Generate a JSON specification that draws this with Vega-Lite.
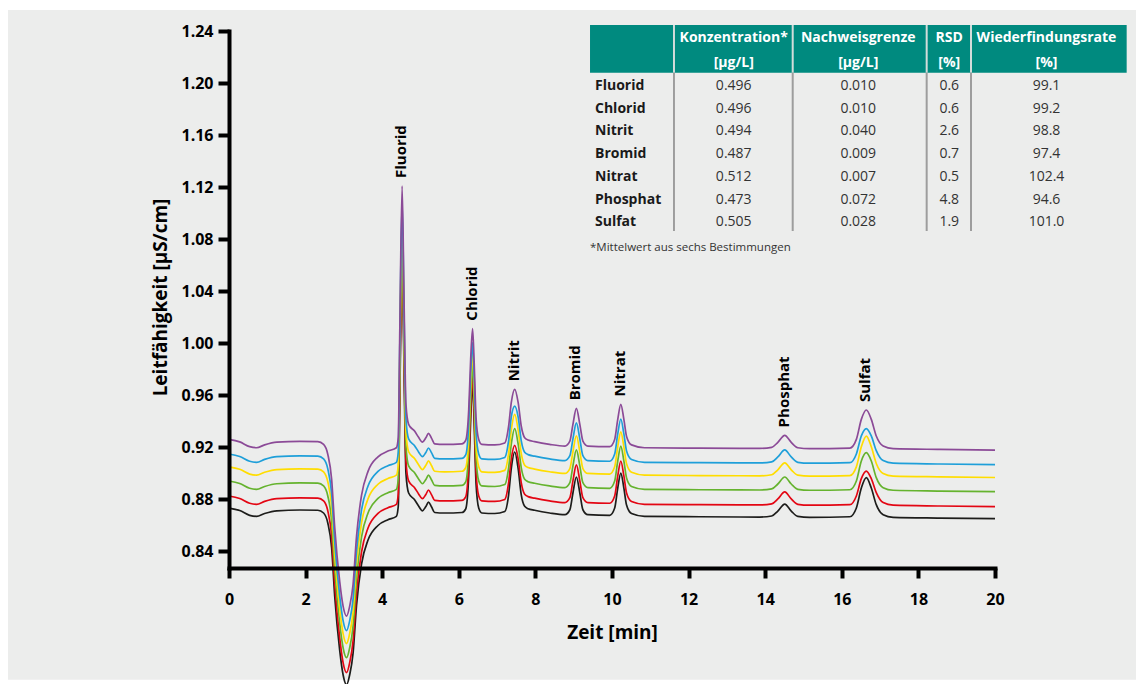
{
  "$schema": "https://vega.github.io/schema/vega-lite/v6.json",
  "width": 766,
  "height": 537,
  "autosize": {"type": "none"},
  "padding": {"left": 229, "top": 31, "right": 141, "bottom": 116},
  "background": "#ffffff",
  "config": {
    "view": {"stroke": null},
    "font": "Open Sans",
    "axis": {
      "grid": false,
      "labelFlush": false,
      "domainColor": "#000000",
      "domainWidth": 4,
      "domainCap": "square",
      "tickColor": "#000000",
      "tickWidth": 4,
      "labelFont": "Open Sans",
      "labelFontWeight": "bold",
      "labelFontSize": 16,
      "labelColor": "#000000",
      "titleFont": "Open Sans",
      "titleFontWeight": "bold",
      "titleFontSize": 19,
      "titleColor": "#000000"
    }
  },
  "datasets": {
    "chromatogramm": [
      {"t": 0, "m1": 0.8731, "m2": 0.8824, "m3": 0.8939, "m4": 0.9048, "m5": 0.9147, "m6": 0.9259},
      {"t": 0.28, "m1": 0.8712, "m2": 0.8805, "m3": 0.8920, "m4": 0.9029, "m5": 0.9128, "m6": 0.9240},
      {"t": 0.54, "m1": 0.8675, "m2": 0.8768, "m3": 0.8883, "m4": 0.8992, "m5": 0.9091, "m6": 0.9203},
      {"t": 0.72, "m1": 0.8667, "m2": 0.8760, "m3": 0.8875, "m4": 0.8984, "m5": 0.9083, "m6": 0.9195},
      {"t": 0.93, "m1": 0.8689, "m2": 0.8782, "m3": 0.8897, "m4": 0.9006, "m5": 0.9105, "m6": 0.9217},
      {"t": 1.25, "m1": 0.8710, "m2": 0.8803, "m3": 0.8918, "m4": 0.9027, "m5": 0.9126, "m6": 0.9238},
      {"t": 1.85, "m1": 0.8716, "m2": 0.8809, "m3": 0.8924, "m4": 0.9033, "m5": 0.9132, "m6": 0.9244},
      {"t": 2.32, "m1": 0.8714, "m2": 0.8807, "m3": 0.8922, "m4": 0.9031, "m5": 0.9130, "m6": 0.9242},
      {"t": 2.47, "m1": 0.8693, "m2": 0.8786, "m3": 0.8901, "m4": 0.9010, "m5": 0.9109, "m6": 0.9221},
      {"t": 2.58, "m1": 0.8616, "m2": 0.8709, "m3": 0.8824, "m4": 0.8933, "m5": 0.9032, "m6": 0.9144},
      {"t": 2.68, "m1": 0.8424, "m2": 0.8517, "m3": 0.8632, "m4": 0.8741, "m5": 0.8840, "m6": 0.8952},
      {"t": 2.76, "m1": 0.8054, "m2": 0.8147, "m3": 0.8262, "m4": 0.8371, "m5": 0.8470, "m6": 0.8582},
      {"t": 2.89, "m1": 0.7639, "m2": 0.7732, "m3": 0.7847, "m4": 0.7956, "m5": 0.8055, "m6": 0.8167},
      {"t": 2.98, "m1": 0.7447, "m2": 0.7540, "m3": 0.7655, "m4": 0.7764, "m5": 0.7863, "m6": 0.7975},
      {"t": 3.07, "m1": 0.7372, "m2": 0.7465, "m3": 0.7580, "m4": 0.7689, "m5": 0.7788, "m6": 0.7900},
      {"t": 3.15, "m1": 0.7447, "m2": 0.7540, "m3": 0.7655, "m4": 0.7764, "m5": 0.7863, "m6": 0.7975},
      {"t": 3.24, "m1": 0.7616, "m2": 0.7709, "m3": 0.7824, "m4": 0.7933, "m5": 0.8032, "m6": 0.8144},
      {"t": 3.33, "m1": 0.7985, "m2": 0.8078, "m3": 0.8193, "m4": 0.8302, "m5": 0.8401, "m6": 0.8513},
      {"t": 3.46, "m1": 0.8300, "m2": 0.8393, "m3": 0.8508, "m4": 0.8617, "m5": 0.8716, "m6": 0.8828},
      {"t": 3.63, "m1": 0.8485, "m2": 0.8578, "m3": 0.8693, "m4": 0.8802, "m5": 0.8901, "m6": 0.9013},
      {"t": 3.89, "m1": 0.8597, "m2": 0.8690, "m3": 0.8805, "m4": 0.8914, "m5": 0.9013, "m6": 0.9125},
      {"t": 4.15, "m1": 0.8641, "m2": 0.8734, "m3": 0.8849, "m4": 0.8958, "m5": 0.9057, "m6": 0.9169},
      {"t": 4.37, "m1": 0.8667, "m2": 0.8760, "m3": 0.8875, "m4": 0.8984, "m5": 0.9083, "m6": 0.9195},
      {"t": 4.42, "m1": 0.8747, "m2": 0.8840, "m3": 0.8955, "m4": 0.9064, "m5": 0.9163, "m6": 0.9275},
      {"t": 4.46, "m1": 0.9577, "m2": 0.9670, "m3": 0.9785, "m4": 0.9894, "m5": 0.9993, "m6": 1.0105},
      {"t": 4.52, "m1": 1.0680, "m2": 1.0773, "m3": 1.0888, "m4": 1.0997, "m5": 1.1096, "m6": 1.1208},
      {"t": 4.57, "m1": 0.9808, "m2": 0.9901, "m3": 1.0016, "m4": 1.0125, "m5": 1.0224, "m6": 1.0336},
      {"t": 4.62, "m1": 0.9000, "m2": 0.9093, "m3": 0.9208, "m4": 0.9317, "m5": 0.9416, "m6": 0.9528},
      {"t": 4.69, "m1": 0.8847, "m2": 0.8940, "m3": 0.9055, "m4": 0.9164, "m5": 0.9263, "m6": 0.9375},
      {"t": 4.85, "m1": 0.8793, "m2": 0.8886, "m3": 0.9001, "m4": 0.9110, "m5": 0.9209, "m6": 0.9321},
      {"t": 4.95, "m1": 0.8747, "m2": 0.8840, "m3": 0.8955, "m4": 0.9064, "m5": 0.9163, "m6": 0.9275},
      {"t": 5.05, "m1": 0.8710, "m2": 0.8803, "m3": 0.8918, "m4": 0.9027, "m5": 0.9126, "m6": 0.9238},
      {"t": 5.14, "m1": 0.8743, "m2": 0.8836, "m3": 0.8951, "m4": 0.9060, "m5": 0.9159, "m6": 0.9271},
      {"t": 5.21, "m1": 0.8777, "m2": 0.8870, "m3": 0.8985, "m4": 0.9094, "m5": 0.9193, "m6": 0.9305},
      {"t": 5.29, "m1": 0.8739, "m2": 0.8832, "m3": 0.8947, "m4": 0.9056, "m5": 0.9155, "m6": 0.9267},
      {"t": 5.37, "m1": 0.8697, "m2": 0.8790, "m3": 0.8905, "m4": 0.9014, "m5": 0.9113, "m6": 0.9225},
      {"t": 5.63, "m1": 0.8693, "m2": 0.8786, "m3": 0.8901, "m4": 0.9010, "m5": 0.9109, "m6": 0.9221},
      {"t": 6.08, "m1": 0.8697, "m2": 0.8790, "m3": 0.8905, "m4": 0.9014, "m5": 0.9113, "m6": 0.9225},
      {"t": 6.18, "m1": 0.8724, "m2": 0.8817, "m3": 0.8932, "m4": 0.9041, "m5": 0.9140, "m6": 0.9252},
      {"t": 6.26, "m1": 0.8990, "m2": 0.9076, "m3": 0.9181, "m4": 0.9279, "m5": 0.9378, "m6": 0.9490},
      {"t": 6.31, "m1": 0.9414, "m2": 0.9490, "m3": 0.9582, "m4": 0.9680, "m5": 0.9763, "m6": 0.9875},
      {"t": 6.36, "m1": 0.9695, "m2": 0.9759, "m3": 0.9836, "m4": 0.9926, "m5": 1.0003, "m6": 1.0111},
      {"t": 6.40, "m1": 0.9398, "m2": 0.9474, "m3": 0.9566, "m4": 0.9664, "m5": 0.9747, "m6": 0.9859},
      {"t": 6.45, "m1": 0.8922, "m2": 0.9010, "m3": 0.9118, "m4": 0.9217, "m5": 0.9316, "m6": 0.9428},
      {"t": 6.52, "m1": 0.8731, "m2": 0.8824, "m3": 0.8939, "m4": 0.9048, "m5": 0.9147, "m6": 0.9259},
      {"t": 6.60, "m1": 0.8693, "m2": 0.8786, "m3": 0.8901, "m4": 0.9010, "m5": 0.9109, "m6": 0.9221},
      {"t": 6.94, "m1": 0.8689, "m2": 0.8782, "m3": 0.8897, "m4": 0.9006, "m5": 0.9105, "m6": 0.9217},
      {"t": 7.20, "m1": 0.8704, "m2": 0.8797, "m3": 0.8912, "m4": 0.9021, "m5": 0.9120, "m6": 0.9232},
      {"t": 7.30, "m1": 0.8831, "m2": 0.8924, "m3": 0.9039, "m4": 0.9148, "m5": 0.9247, "m6": 0.9359},
      {"t": 7.37, "m1": 0.9034, "m2": 0.9107, "m3": 0.9222, "m4": 0.9331, "m5": 0.9430, "m6": 0.9542},
      {"t": 7.46, "m1": 0.9162, "m2": 0.9213, "m3": 0.9342, "m4": 0.9452, "m5": 0.9515, "m6": 0.9644},
      {"t": 7.55, "m1": 0.9034, "m2": 0.9107, "m3": 0.9222, "m4": 0.9331, "m5": 0.9430, "m6": 0.9542},
      {"t": 7.63, "m1": 0.8834, "m2": 0.8927, "m3": 0.9042, "m4": 0.9151, "m5": 0.9250, "m6": 0.9362},
      {"t": 7.72, "m1": 0.8744, "m2": 0.8837, "m3": 0.8952, "m4": 0.9061, "m5": 0.9160, "m6": 0.9272},
      {"t": 7.81, "m1": 0.8726, "m2": 0.8819, "m3": 0.8934, "m4": 0.9043, "m5": 0.9142, "m6": 0.9254},
      {"t": 7.98, "m1": 0.8714, "m2": 0.8807, "m3": 0.8922, "m4": 0.9031, "m5": 0.9130, "m6": 0.9242},
      {"t": 8.37, "m1": 0.8693, "m2": 0.8786, "m3": 0.8901, "m4": 0.9010, "m5": 0.9109, "m6": 0.9221},
      {"t": 8.77, "m1": 0.8680, "m2": 0.8773, "m3": 0.8888, "m4": 0.8997, "m5": 0.9096, "m6": 0.9208},
      {"t": 8.90, "m1": 0.8718, "m2": 0.8811, "m3": 0.8926, "m4": 0.9035, "m5": 0.9134, "m6": 0.9246},
      {"t": 8.98, "m1": 0.8847, "m2": 0.8940, "m3": 0.9055, "m4": 0.9164, "m5": 0.9263, "m6": 0.9375},
      {"t": 9.07, "m1": 0.8970, "m2": 0.9063, "m3": 0.9178, "m4": 0.9287, "m5": 0.9386, "m6": 0.9498},
      {"t": 9.16, "m1": 0.8847, "m2": 0.8940, "m3": 0.9055, "m4": 0.9164, "m5": 0.9263, "m6": 0.9375},
      {"t": 9.24, "m1": 0.8718, "m2": 0.8811, "m3": 0.8926, "m4": 0.9035, "m5": 0.9134, "m6": 0.9246},
      {"t": 9.37, "m1": 0.8680, "m2": 0.8773, "m3": 0.8888, "m4": 0.8997, "m5": 0.9096, "m6": 0.9208},
      {"t": 9.94, "m1": 0.8675, "m2": 0.8768, "m3": 0.8883, "m4": 0.8992, "m5": 0.9091, "m6": 0.9203},
      {"t": 10.07, "m1": 0.8731, "m2": 0.8824, "m3": 0.8939, "m4": 0.9048, "m5": 0.9147, "m6": 0.9259},
      {"t": 10.15, "m1": 0.8885, "m2": 0.8978, "m3": 0.9093, "m4": 0.9202, "m5": 0.9301, "m6": 0.9413},
      {"t": 10.23, "m1": 0.9000, "m2": 0.9093, "m3": 0.9208, "m4": 0.9317, "m5": 0.9416, "m6": 0.9528},
      {"t": 10.31, "m1": 0.8885, "m2": 0.8978, "m3": 0.9093, "m4": 0.9202, "m5": 0.9301, "m6": 0.9413},
      {"t": 10.38, "m1": 0.8754, "m2": 0.8847, "m3": 0.8962, "m4": 0.9071, "m5": 0.9170, "m6": 0.9282},
      {"t": 10.51, "m1": 0.8689, "m2": 0.8782, "m3": 0.8897, "m4": 0.9006, "m5": 0.9105, "m6": 0.9217},
      {"t": 10.85, "m1": 0.8667, "m2": 0.8760, "m3": 0.8875, "m4": 0.8984, "m5": 0.9083, "m6": 0.9195},
      {"t": 12.29, "m1": 0.8664, "m2": 0.8757, "m3": 0.8872, "m4": 0.8981, "m5": 0.9080, "m6": 0.9192},
      {"t": 13.86, "m1": 0.8662, "m2": 0.8755, "m3": 0.8870, "m4": 0.8979, "m5": 0.9078, "m6": 0.9190},
      {"t": 14.17, "m1": 0.8670, "m2": 0.8763, "m3": 0.8878, "m4": 0.8987, "m5": 0.9086, "m6": 0.9198},
      {"t": 14.33, "m1": 0.8708, "m2": 0.8801, "m3": 0.8916, "m4": 0.9025, "m5": 0.9124, "m6": 0.9236},
      {"t": 14.51, "m1": 0.8762, "m2": 0.8855, "m3": 0.8970, "m4": 0.9079, "m5": 0.9178, "m6": 0.9290},
      {"t": 14.68, "m1": 0.8708, "m2": 0.8801, "m3": 0.8916, "m4": 0.9025, "m5": 0.9124, "m6": 0.9236},
      {"t": 14.85, "m1": 0.8667, "m2": 0.8760, "m3": 0.8875, "m4": 0.8984, "m5": 0.9083, "m6": 0.9195},
      {"t": 15.16, "m1": 0.8660, "m2": 0.8753, "m3": 0.8868, "m4": 0.8977, "m5": 0.9076, "m6": 0.9188},
      {"t": 16.21, "m1": 0.8664, "m2": 0.8757, "m3": 0.8872, "m4": 0.8981, "m5": 0.9080, "m6": 0.9192},
      {"t": 16.38, "m1": 0.8731, "m2": 0.8824, "m3": 0.8939, "m4": 0.9048, "m5": 0.9147, "m6": 0.9259},
      {"t": 16.51, "m1": 0.8885, "m2": 0.8957, "m3": 0.9093, "m4": 0.9202, "m5": 0.9286, "m6": 0.9413},
      {"t": 16.64, "m1": 0.8965, "m2": 0.9015, "m3": 0.9157, "m4": 0.9285, "m5": 0.9342, "m6": 0.9485},
      {"t": 16.77, "m1": 0.8885, "m2": 0.8957, "m3": 0.9093, "m4": 0.9202, "m5": 0.9286, "m6": 0.9413},
      {"t": 16.90, "m1": 0.8757, "m2": 0.8850, "m3": 0.8965, "m4": 0.9074, "m5": 0.9173, "m6": 0.9285},
      {"t": 17.08, "m1": 0.8680, "m2": 0.8773, "m3": 0.8888, "m4": 0.8997, "m5": 0.9096, "m6": 0.9208},
      {"t": 17.34, "m1": 0.8660, "m2": 0.8753, "m3": 0.8868, "m4": 0.8977, "m5": 0.9076, "m6": 0.9188},
      {"t": 18.56, "m1": 0.8654, "m2": 0.8747, "m3": 0.8862, "m4": 0.8971, "m5": 0.9070, "m6": 0.9182},
      {"t": 20, "m1": 0.8649, "m2": 0.8742, "m3": 0.8857, "m4": 0.8966, "m5": 0.9065, "m6": 0.9177}
    ],
    "peaks": [
      {"Anion": "Fluorid", "t": 4.52, "wert": 1.1208},
      {"Anion": "Chlorid", "t": 6.36, "wert": 1.0111},
      {"Anion": "Nitrit", "t": 7.46, "wert": 0.9644},
      {"Anion": "Bromid", "t": 9.07, "wert": 0.9498},
      {"Anion": "Nitrat", "t": 10.23, "wert": 0.9528},
      {"Anion": "Phosphat", "t": 14.51, "wert": 0.9290},
      {"Anion": "Sulfat", "t": 16.64, "wert": 0.9485}
    ],
    "tabelle": [
      {"nr": 1, "Anion": "Fluorid", "Konzentration": "0.496", "Nachweisgrenze": "0.010", "RSD": "0.6", "Wiederfindung": "99.1"},
      {"nr": 2, "Anion": "Chlorid", "Konzentration": "0.496", "Nachweisgrenze": "0.010", "RSD": "0.6", "Wiederfindung": "99.2"},
      {"nr": 3, "Anion": "Nitrit", "Konzentration": "0.494", "Nachweisgrenze": "0.040", "RSD": "2.6", "Wiederfindung": "98.8"},
      {"nr": 4, "Anion": "Bromid", "Konzentration": "0.487", "Nachweisgrenze": "0.009", "RSD": "0.7", "Wiederfindung": "97.4"},
      {"nr": 5, "Anion": "Nitrat", "Konzentration": "0.512", "Nachweisgrenze": "0.007", "RSD": "0.5", "Wiederfindung": "102.4"},
      {"nr": 6, "Anion": "Phosphat", "Konzentration": "0.473", "Nachweisgrenze": "0.072", "RSD": "4.8", "Wiederfindung": "94.6"},
      {"nr": 7, "Anion": "Sulfat", "Konzentration": "0.505", "Nachweisgrenze": "0.028", "RSD": "1.9", "Wiederfindung": "101.0"}
    ]
  },
  "layer": [
    {
      "layer": [
        {
          "data": {"values": [{}]},
          "mark": {"type": "rect", "color": "#ecedec"},
          "encoding": {
            "x": {"datum": -28.85, "type": "quantitative", "scale": {"domain": [0, 100], "nice": false, "zero": false}, "axis": null},
            "x2": {"datum": 118.6},
            "y": {"datum": -2.26, "type": "quantitative", "scale": {"domain": [22.322, -1.335], "nice": false, "zero": false}, "axis": null},
            "y2": {"datum": 27.24}
          }
        },
        {
          "data": {"values": [{}]},
          "mark": {"type": "rect", "color": "#008a7f"},
          "encoding": {
            "x": {"datum": 47.13, "type": "quantitative", "scale": {"domain": [0, 100], "nice": false, "zero": false}, "axis": null},
            "x2": {"datum": 117.19},
            "y": {"datum": -1.599, "type": "quantitative", "scale": {"domain": [22.322, -1.335], "nice": false, "zero": false}, "axis": null},
            "y2": {"datum": 0.502}
          }
        },
        {
          "data": {"values": [{}]},
          "mark": {"type": "rule", "color": "#d3dcda", "strokeWidth": 2},
          "encoding": {
            "x": {"datum": 58.09, "type": "quantitative", "scale": {"domain": [0, 100], "nice": false, "zero": false}, "axis": null},
            "y": {"datum": -1.599, "type": "quantitative", "scale": {"domain": [22.322, -1.335], "nice": false, "zero": false}, "axis": null},
            "y2": {"datum": 0.502}
          }
        },
        {
          "data": {"values": [{}]},
          "mark": {"type": "rule", "color": "#d3dcda", "strokeWidth": 2},
          "encoding": {
            "x": {"datum": 73.59, "type": "quantitative", "scale": {"domain": [0, 100], "nice": false, "zero": false}, "axis": null},
            "y": {"datum": -1.599, "type": "quantitative", "scale": {"domain": [22.322, -1.335], "nice": false, "zero": false}, "axis": null},
            "y2": {"datum": 0.502}
          }
        },
        {
          "data": {"values": [{}]},
          "mark": {"type": "rule", "color": "#d3dcda", "strokeWidth": 2},
          "encoding": {
            "x": {"datum": 91.08, "type": "quantitative", "scale": {"domain": [0, 100], "nice": false, "zero": false}, "axis": null},
            "y": {"datum": -1.599, "type": "quantitative", "scale": {"domain": [22.322, -1.335], "nice": false, "zero": false}, "axis": null},
            "y2": {"datum": 0.502}
          }
        },
        {
          "data": {"values": [{}]},
          "mark": {"type": "rule", "color": "#d3dcda", "strokeWidth": 2},
          "encoding": {
            "x": {"datum": 96.87, "type": "quantitative", "scale": {"domain": [0, 100], "nice": false, "zero": false}, "axis": null},
            "y": {"datum": -1.599, "type": "quantitative", "scale": {"domain": [22.322, -1.335], "nice": false, "zero": false}, "axis": null},
            "y2": {"datum": 0.502}
          }
        },
        {
          "data": {"values": [{}]},
          "mark": {"type": "rule", "color": "#9d9d9d", "strokeWidth": 2},
          "encoding": {
            "x": {"datum": 58.09, "type": "quantitative", "scale": {"domain": [0, 100], "nice": false, "zero": false}, "axis": null},
            "y": {"datum": 0.502, "type": "quantitative", "scale": {"domain": [22.322, -1.335], "nice": false, "zero": false}, "axis": null},
            "y2": {"datum": 7.476}
          }
        },
        {
          "data": {"values": [{}]},
          "mark": {"type": "rule", "color": "#9d9d9d", "strokeWidth": 2},
          "encoding": {
            "x": {"datum": 73.59, "type": "quantitative", "scale": {"domain": [0, 100], "nice": false, "zero": false}, "axis": null},
            "y": {"datum": 0.502, "type": "quantitative", "scale": {"domain": [22.322, -1.335], "nice": false, "zero": false}, "axis": null},
            "y2": {"datum": 7.476}
          }
        },
        {
          "data": {"values": [{}]},
          "mark": {"type": "rule", "color": "#9d9d9d", "strokeWidth": 2},
          "encoding": {
            "x": {"datum": 91.08, "type": "quantitative", "scale": {"domain": [0, 100], "nice": false, "zero": false}, "axis": null},
            "y": {"datum": 0.502, "type": "quantitative", "scale": {"domain": [22.322, -1.335], "nice": false, "zero": false}, "axis": null},
            "y2": {"datum": 7.476}
          }
        },
        {
          "data": {"values": [{}]},
          "mark": {"type": "rule", "color": "#9d9d9d", "strokeWidth": 2},
          "encoding": {
            "x": {"datum": 96.87, "type": "quantitative", "scale": {"domain": [0, 100], "nice": false, "zero": false}, "axis": null},
            "y": {"datum": 0.502, "type": "quantitative", "scale": {"domain": [22.322, -1.335], "nice": false, "zero": false}, "axis": null},
            "y2": {"datum": 7.476}
          }
        },
        {
          "data": {"values": [{}]},
          "mark": {"type": "text", "align": "center", "baseline": "top", "lineHeight": 24.5, "font": "Open Sans", "fontSize": 14, "fontWeight": "bold", "color": "#ffffff"},
          "encoding": {
            "x": {"datum": 65.89, "type": "quantitative", "scale": {"domain": [0, 100], "nice": false, "zero": false}, "axis": null},
            "y": {"datum": -1.32, "type": "quantitative", "scale": {"domain": [22.322, -1.335], "nice": false, "zero": false}, "axis": null},
            "text": {"value": ["Konzentration*", "[µg/L]"]}
          }
        },
        {
          "data": {"values": [{}]},
          "mark": {"type": "text", "align": "center", "baseline": "top", "lineHeight": 24.5, "font": "Open Sans", "fontSize": 14, "fontWeight": "bold", "color": "#ffffff"},
          "encoding": {
            "x": {"datum": 82.15, "type": "quantitative", "scale": {"domain": [0, 100], "nice": false, "zero": false}, "axis": null},
            "y": {"datum": -1.32, "type": "quantitative", "scale": {"domain": [22.322, -1.335], "nice": false, "zero": false}, "axis": null},
            "text": {"value": ["Nachweisgrenze", "[µg/L]"]}
          }
        },
        {
          "data": {"values": [{}]},
          "mark": {"type": "text", "align": "center", "baseline": "top", "lineHeight": 24.5, "font": "Open Sans", "fontSize": 14, "fontWeight": "bold", "color": "#ffffff"},
          "encoding": {
            "x": {"datum": 94.03, "type": "quantitative", "scale": {"domain": [0, 100], "nice": false, "zero": false}, "axis": null},
            "y": {"datum": -1.32, "type": "quantitative", "scale": {"domain": [22.322, -1.335], "nice": false, "zero": false}, "axis": null},
            "text": {"value": ["RSD", "[%]"]}
          }
        },
        {
          "data": {"values": [{}]},
          "mark": {"type": "text", "align": "center", "baseline": "top", "lineHeight": 24.5, "font": "Open Sans", "fontSize": 14, "fontWeight": "bold", "color": "#ffffff"},
          "encoding": {
            "x": {"datum": 106.72, "type": "quantitative", "scale": {"domain": [0, 100], "nice": false, "zero": false}, "axis": null},
            "y": {"datum": -1.32, "type": "quantitative", "scale": {"domain": [22.322, -1.335], "nice": false, "zero": false}, "axis": null},
            "text": {"value": ["Wiederfindungsrate", "[%]"]}
          }
        },
        {
          "data": {"name": "tabelle"},
          "mark": {"type": "text", "align": "left", "baseline": "middle", "dy": 2, "font": "Open Sans", "fontSize": 14, "fontWeight": "bold", "color": "#1a1a1a"},
          "encoding": {
            "x": {"datum": 47.78, "type": "quantitative", "scale": {"domain": [0, 100], "nice": false, "zero": false}, "axis": null},
            "y": {"field": "nr", "type": "quantitative", "scale": {"domain": [22.322, -1.335], "nice": false, "zero": false}, "axis": null},
            "text": {"field": "Anion"}
          }
        },
        {
          "data": {"name": "tabelle"},
          "mark": {"type": "text", "align": "center", "baseline": "middle", "dy": 2, "font": "Open Sans", "fontSize": 14, "color": "#333333"},
          "encoding": {
            "x": {"datum": 65.89, "type": "quantitative", "scale": {"domain": [0, 100], "nice": false, "zero": false}, "axis": null},
            "y": {"field": "nr", "type": "quantitative", "scale": {"domain": [22.322, -1.335], "nice": false, "zero": false}, "axis": null},
            "text": {"field": "Konzentration"}
          }
        },
        {
          "data": {"name": "tabelle"},
          "mark": {"type": "text", "align": "center", "baseline": "middle", "dy": 2, "font": "Open Sans", "fontSize": 14, "color": "#333333"},
          "encoding": {
            "x": {"datum": 82.15, "type": "quantitative", "scale": {"domain": [0, 100], "nice": false, "zero": false}, "axis": null},
            "y": {"field": "nr", "type": "quantitative", "scale": {"domain": [22.322, -1.335], "nice": false, "zero": false}, "axis": null},
            "text": {"field": "Nachweisgrenze"}
          }
        },
        {
          "data": {"name": "tabelle"},
          "mark": {"type": "text", "align": "center", "baseline": "middle", "dy": 2, "font": "Open Sans", "fontSize": 14, "color": "#333333"},
          "encoding": {
            "x": {"datum": 94.03, "type": "quantitative", "scale": {"domain": [0, 100], "nice": false, "zero": false}, "axis": null},
            "y": {"field": "nr", "type": "quantitative", "scale": {"domain": [22.322, -1.335], "nice": false, "zero": false}, "axis": null},
            "text": {"field": "RSD"}
          }
        },
        {
          "data": {"name": "tabelle"},
          "mark": {"type": "text", "align": "center", "baseline": "middle", "dy": 2, "font": "Open Sans", "fontSize": 14, "color": "#333333"},
          "encoding": {
            "x": {"datum": 106.72, "type": "quantitative", "scale": {"domain": [0, 100], "nice": false, "zero": false}, "axis": null},
            "y": {"field": "nr", "type": "quantitative", "scale": {"domain": [22.322, -1.335], "nice": false, "zero": false}, "axis": null},
            "text": {"field": "Wiederfindung"}
          }
        },
        {
          "data": {"values": [{}]},
          "mark": {"type": "text", "align": "left", "baseline": "middle", "dy": 1, "font": "Open Sans", "fontSize": 11.5, "color": "#333333"},
          "encoding": {
            "x": {"datum": 47.13, "type": "quantitative", "scale": {"domain": [0, 100], "nice": false, "zero": false}, "axis": null},
            "y": {"datum": 8.167, "type": "quantitative", "scale": {"domain": [22.322, -1.335], "nice": false, "zero": false}, "axis": null},
            "text": {"value": "*Mittelwert aus sechs Bestimmungen"}
          }
        }
      ]
    },
    {
      "layer": [
        {
          "data": {"name": "chromatogramm"},
          "transform": [{"fold": ["m1", "m2", "m3", "m4", "m5", "m6"], "as": ["messung", "wert"]}],
          "mark": {"type": "line", "interpolate": "monotone", "strokeWidth": 1.7},
          "encoding": {
            "x": {
              "field": "t", "type": "quantitative",
              "scale": {"domain": [0, 20], "nice": false, "zero": false},
              "axis": {"orient": "bottom", "zindex": 1, "labelFlush": false, "values": [0, 2, 4, 6, 8, 10, 12, 14, 16, 18, 20], "tickSize": 10, "labelPadding": 13, "title": "Zeit [min]", "titleBaseline": "alphabetic", "titleY": 70}
            },
            "y": {
              "field": "wert", "type": "quantitative",
              "scale": {"domain": [0.827, 1.24], "nice": false, "zero": false},
              "axis": {"orient": "left", "zindex": 1, "labelFlush": false, "values": [0.84, 0.88, 0.92, 0.96, 1.0, 1.04, 1.08, 1.12, 1.16, 1.2, 1.24], "format": ".2f", "tickSize": 11, "labelPadding": 5, "title": "Leitfähigkeit [µS/cm]", "titleAngle": 270, "titleBaseline": "alphabetic", "titleX": -63, "titleY": 266}
            },
            "color": {
              "field": "messung", "type": "nominal",
              "scale": {"domain": ["m1", "m2", "m3", "m4", "m5", "m6"], "range": ["#1d1d1b", "#e30613", "#65b32e", "#ffdd00", "#1e9fd9", "#8b4a97"]},
              "legend": null
            }
          }
        },
        {
          "data": {"name": "peaks"},
          "mark": {"type": "text", "angle": 270, "align": "left", "baseline": "middle", "dx": 8, "dy": -1, "font": "Open Sans", "fontSize": 15, "fontWeight": "bold", "color": "#000000"},
          "encoding": {
            "x": {"field": "t", "type": "quantitative", "title": "Zeit [min]"},
            "y": {"field": "wert", "type": "quantitative", "title": "Leitfähigkeit [µS/cm]"},
            "text": {"field": "Anion"}
          }
        }
      ]
    }
  ],
  "resolve": {"scale": {"x": "independent", "y": "independent"}}
}
